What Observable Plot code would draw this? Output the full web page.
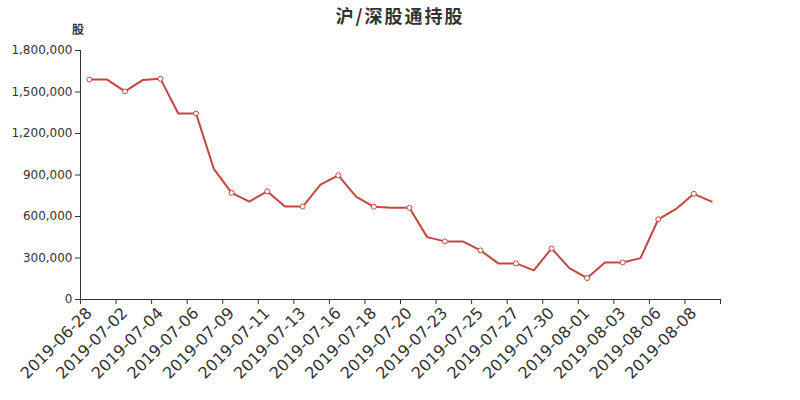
<!DOCTYPE html>
<html>
<head>
<meta charset="utf-8">
<script src="https://cdn.jsdelivr.net/npm/d3@7"></script>
<script src="https://cdn.jsdelivr.net/npm/@observablehq/plot@0.6"></script>
<style>
  html, body { margin: 0; padding: 0; background: #fff; }
  #wrap { position: relative; width: 800px; height: 400px; }
  #title { position: absolute; left: 0; top: 2px; width: 800px; text-align: center;
    font-family: "Noto Sans CJK SC", sans-serif; font-weight: bold; font-size: 18px; color: #333; letter-spacing: 2px; }
  #ylabel { position: absolute; left: 72px; top: 20px; font-family: "Noto Sans CJK SC", sans-serif;
    font-size: 12px; font-weight: bold; color: #333; }
</style>
</head>
<body>
<div id="wrap">
  <div id="title">沪/深股通持股</div>
  <div id="ylabel">股</div>
  <div id="chart"></div>
</div>
<script>
const dates = [
  "2019-06-28","2019-06-29","2019-07-02","2019-07-03","2019-07-04","2019-07-05",
  "2019-07-06","2019-07-08","2019-07-09","2019-07-10","2019-07-11","2019-07-12",
  "2019-07-13","2019-07-15","2019-07-16","2019-07-17","2019-07-18","2019-07-19",
  "2019-07-20","2019-07-22","2019-07-23","2019-07-24","2019-07-25","2019-07-26",
  "2019-07-27","2019-07-29","2019-07-30","2019-07-31","2019-08-01","2019-08-02",
  "2019-08-03","2019-08-05","2019-08-06","2019-08-07","2019-08-08","2019-08-09"
];
const holdings = [
  1590000, 1590000, 1504000, 1586000, 1595000, 1345000,
  1345000, 944000, 771000, 708000, 782000, 672000,
  672000, 831000, 898000, 744000, 670000, 663000,
  663000, 451000, 420000, 420000, 355000, 261000,
  261000, 211000, 369000, 227000, 155000, 268000,
  268000, 299000, 580000, 655000, 764000, 708000
];
const yTicks = [0, 300000, 600000, 900000, 1200000, 1500000, 1800000];

const lineColor = "#c4463f";
const data = dates.map((d, i) => ({i, date: d, value: holdings[i]}));
const labelIdx = dates.map((d, i) => i).filter(i => i % 2 === 0);
const boundaries = labelIdx.map(i => i - 0.5).concat([dates.length - 0.5]);

const chart = Plot.plot({
  width: 800,
  height: 400,
  marginLeft: 80,
  marginRight: 80,
  marginTop: 50,
  marginBottom: 101,
  x: {type: "linear", domain: [-0.5, dates.length - 0.5]},
  y: {domain: [0, 1800000]},
  style: {fontFamily: "DejaVu Sans", color: "#333", background: "#fff"},
  marks: [
    Plot.axisY({ticks: yTicks, tickFormat: d3.format(","), tickSize: 5, tickPadding: 3, fontSize: 12, label: null, stroke: "#333"}),
    Plot.axisX({ticks: boundaries, tickFormat: () => "", tickSize: 5, label: null, stroke: "#333"}),
    Plot.axisX({ticks: labelIdx, tickFormat: i => dates[i], tickSize: 0, tickPadding: 11, tickRotate: -45, fontSize: 16, label: null}),
    Plot.ruleY([0], {stroke: "#333"}),
    Plot.ruleX([-0.5], {stroke: "#333"}),
    Plot.line(data, {x: "i", y: "value", stroke: lineColor, strokeWidth: 2}),
    Plot.dot(data.filter(d => d.i % 2 === 0), {x: "i", y: "value", r: 2.5, fill: "white", stroke: lineColor, strokeWidth: 1})
  ]
});
document.getElementById("chart").appendChild(chart);
</script>
</body>
</html>
